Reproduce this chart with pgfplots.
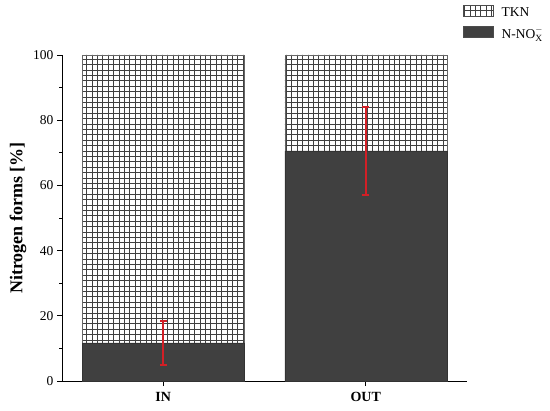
\documentclass[border=0pt]{standalone}
\usepackage{fontspec}
\setmainfont{Liberation Serif}
\usepackage{pgfplots}
\pgfplotsset{compat=1.18}
\usetikzlibrary{patterns}
\pgfdeclarepatternformonly{mygrid}{\pgfqpoint{-1bp}{-1bp}}{\pgfqpoint{6bp}{6bp}}{\pgfqpoint{5.4bp}{5.4bp}}{%
  \pgfsetlinewidth{0.4bp}%
  \pgfpathmoveto{\pgfqpoint{0bp}{0bp}}\pgfpathlineto{\pgfqpoint{5.4bp}{0bp}}%
  \pgfpathmoveto{\pgfqpoint{0bp}{0bp}}\pgfpathlineto{\pgfqpoint{0bp}{5.4bp}}%
  \pgfusepath{stroke}}
\definecolor{darkbar}{HTML}{404040}
\definecolor{errred}{HTML}{D21F26}
\pgfplotsset{common/.style={
  at={(62bp,29bp)}, anchor=south west,
  scale only axis, width=405bp, height=326bp,
  xmin=-0.5, xmax=1.5, ymin=0, ymax=100, clip=false}}
\begin{document}
\begin{tikzpicture}[x=1bp,y=1bp]
\path[use as bounding box] (0,0) rectangle (550,410);
\begin{axis}[
  common,
  axis x line*=bottom, axis y line*=left,
  axis line style={line width=0.8bp},
  ybar stacked, bar width=0.8,
  xtick={0,1}, xticklabels={IN,OUT},
  xticklabel style={font=\fontsize{14bp}{16bp}\selectfont\bfseries, yshift=-3bp},
  ytick={0,20,40,60,80,100}, minor ytick={10,30,50,70,90},
  tick align=outside, major tick length=5bp, minor tick length=3bp,
  tick style={line width=0.8bp, black},
  yticklabel style={font=\fontsize{13.5bp}{15bp}\selectfont},
  /pgf/number format/assume math mode=true,
  ylabel={Nitrogen forms [\%]},
  ylabel style={font=\fontsize{18bp}{20bp}\selectfont\bfseries},
  ylabel shift=0bp,
  reverse legend,
  legend style={at={(axis cs:1.5,100)}, anchor=north west, xshift=-4bp, yshift=50bp, draw=none, fill=none,
    font=\fontsize{13.5bp}{15bp}\selectfont, row sep=6bp, inner sep=0pt},
  legend cell align=left,
  legend image code/.code={\draw[#1, draw=black!70] (0bp,-4bp) rectangle (30bp,7bp); \path (36bp,0bp);},
]
\addplot[fill=darkbar, draw=black!80, line width=0.4bp]
  coordinates {(0,11.7) (1,70.6)};
\addlegendentry{N-NO$_{\mathrm{X}}^{-}$}
\addplot[fill=white, draw=black!60, line width=0.4bp, postaction={pattern=mygrid, pattern color=black!75}]
  coordinates {(0,88.3) (1,29.4)};
\addlegendentry{TKN}
\end{axis}
\begin{axis}[common, hide axis]
% error bars (IN: 11.7 +- 6.7, OUT: 70.6 +- 13.5)
\addplot[draw=errred, line width=1.8bp, mark=-, mark size=3.5bp, mark options={draw=errred, line width=1.6bp}]
  coordinates {(0,5.0) (0,18.4)};
\addplot[draw=errred, line width=1.8bp, mark=-, mark size=3.5bp, mark options={draw=errred, line width=1.6bp}]
  coordinates {(1,57.1) (1,84.1)};
\end{axis}
\end{tikzpicture}
\end{document}
